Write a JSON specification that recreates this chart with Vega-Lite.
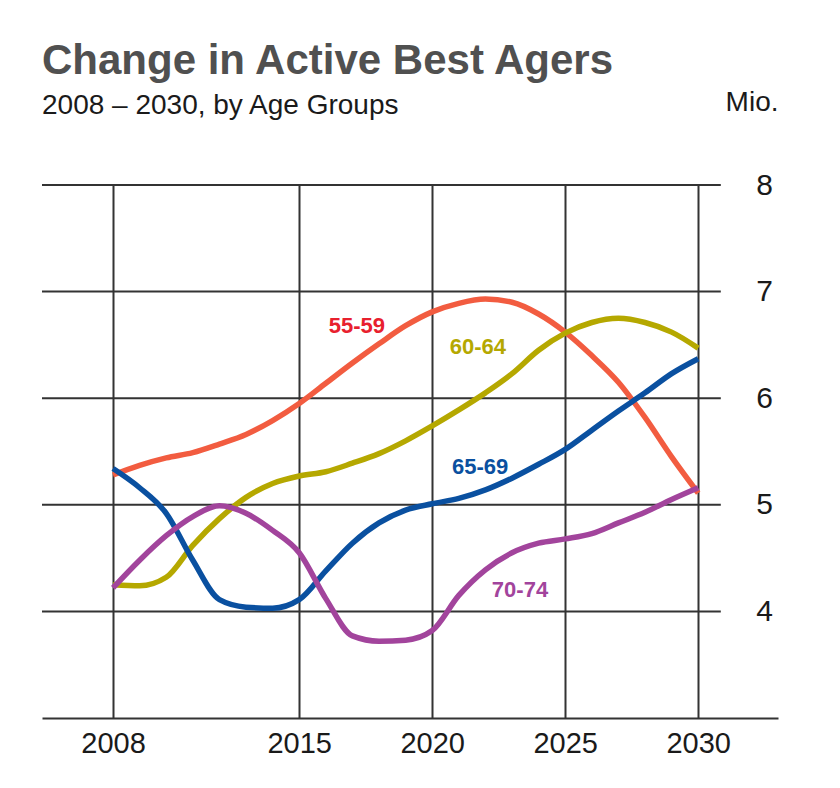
{
  "$schema": "https://vega.github.io/schema/vega-lite/v6.json",
  "autosize": "none",
  "width": 736,
  "height": 533,
  "padding": {"left": 42, "top": 185, "right": 62, "bottom": 70},
  "background": "white",
  "config": {"view": {"stroke": null}, "font": "Liberation Sans"},
  "title": {
    "text": "Change in Active Best Agers",
    "subtitle": "2008 – 2030, by Age Groups",
    "anchor": "start",
    "frame": "group",
    "font": "Liberation Sans",
    "fontSize": 42,
    "fontWeight": "bold",
    "color": "#505050",
    "subtitleFont": "Liberation Sans",
    "subtitleFontSize": 28,
    "subtitleColor": "#1a1a1a",
    "subtitlePadding": 9,
    "offset": -33
  },
  "data": {"values": [
    {"year": 2008, "group": "55-59", "value": 5.28},
    {"year": 2009, "group": "55-59", "value": 5.37},
    {"year": 2010, "group": "55-59", "value": 5.44},
    {"year": 2011, "group": "55-59", "value": 5.49},
    {"year": 2012, "group": "55-59", "value": 5.57},
    {"year": 2013, "group": "55-59", "value": 5.66},
    {"year": 2014, "group": "55-59", "value": 5.79},
    {"year": 2015, "group": "55-59", "value": 5.95},
    {"year": 2016, "group": "55-59", "value": 6.14},
    {"year": 2017, "group": "55-59", "value": 6.33},
    {"year": 2018, "group": "55-59", "value": 6.51},
    {"year": 2019, "group": "55-59", "value": 6.68},
    {"year": 2020, "group": "55-59", "value": 6.81},
    {"year": 2021, "group": "55-59", "value": 6.89},
    {"year": 2022, "group": "55-59", "value": 6.93},
    {"year": 2023, "group": "55-59", "value": 6.90},
    {"year": 2024, "group": "55-59", "value": 6.79},
    {"year": 2025, "group": "55-59", "value": 6.62},
    {"year": 2026, "group": "55-59", "value": 6.40},
    {"year": 2027, "group": "55-59", "value": 6.15},
    {"year": 2028, "group": "55-59", "value": 5.82},
    {"year": 2029, "group": "55-59", "value": 5.45},
    {"year": 2030, "group": "55-59", "value": 5.11},
    {"year": 2008, "group": "60-64", "value": 4.25},
    {"year": 2009, "group": "60-64", "value": 4.24},
    {"year": 2010, "group": "60-64", "value": 4.32},
    {"year": 2011, "group": "60-64", "value": 4.62},
    {"year": 2012, "group": "60-64", "value": 4.87},
    {"year": 2013, "group": "60-64", "value": 5.07},
    {"year": 2014, "group": "60-64", "value": 5.20},
    {"year": 2015, "group": "60-64", "value": 5.27},
    {"year": 2016, "group": "60-64", "value": 5.31},
    {"year": 2017, "group": "60-64", "value": 5.39},
    {"year": 2018, "group": "60-64", "value": 5.48},
    {"year": 2019, "group": "60-64", "value": 5.60},
    {"year": 2020, "group": "60-64", "value": 5.74},
    {"year": 2021, "group": "60-64", "value": 5.89},
    {"year": 2022, "group": "60-64", "value": 6.05},
    {"year": 2023, "group": "60-64", "value": 6.23},
    {"year": 2024, "group": "60-64", "value": 6.45},
    {"year": 2025, "group": "60-64", "value": 6.61},
    {"year": 2026, "group": "60-64", "value": 6.71},
    {"year": 2027, "group": "60-64", "value": 6.75},
    {"year": 2028, "group": "60-64", "value": 6.71},
    {"year": 2029, "group": "60-64", "value": 6.62},
    {"year": 2030, "group": "60-64", "value": 6.47},
    {"year": 2008, "group": "65-69", "value": 5.34},
    {"year": 2009, "group": "65-69", "value": 5.16},
    {"year": 2010, "group": "65-69", "value": 4.92},
    {"year": 2011, "group": "65-69", "value": 4.48},
    {"year": 2012, "group": "65-69", "value": 4.11},
    {"year": 2013, "group": "65-69", "value": 4.04},
    {"year": 2014, "group": "65-69", "value": 4.03},
    {"year": 2015, "group": "65-69", "value": 4.11},
    {"year": 2016, "group": "65-69", "value": 4.38},
    {"year": 2017, "group": "65-69", "value": 4.64},
    {"year": 2018, "group": "65-69", "value": 4.83},
    {"year": 2019, "group": "65-69", "value": 4.95},
    {"year": 2020, "group": "65-69", "value": 5.01},
    {"year": 2021, "group": "65-69", "value": 5.06},
    {"year": 2022, "group": "65-69", "value": 5.14},
    {"year": 2023, "group": "65-69", "value": 5.25},
    {"year": 2024, "group": "65-69", "value": 5.38},
    {"year": 2025, "group": "65-69", "value": 5.52},
    {"year": 2026, "group": "65-69", "value": 5.70},
    {"year": 2027, "group": "65-69", "value": 5.88},
    {"year": 2028, "group": "65-69", "value": 6.05},
    {"year": 2029, "group": "65-69", "value": 6.23},
    {"year": 2030, "group": "65-69", "value": 6.37},
    {"year": 2008, "group": "70-74", "value": 4.22},
    {"year": 2009, "group": "70-74", "value": 4.48},
    {"year": 2010, "group": "70-74", "value": 4.71},
    {"year": 2011, "group": "70-74", "value": 4.89},
    {"year": 2012, "group": "70-74", "value": 4.99},
    {"year": 2013, "group": "70-74", "value": 4.92},
    {"year": 2014, "group": "70-74", "value": 4.76},
    {"year": 2015, "group": "70-74", "value": 4.55},
    {"year": 2016, "group": "70-74", "value": 4.12},
    {"year": 2017, "group": "70-74", "value": 3.77},
    {"year": 2018, "group": "70-74", "value": 3.72},
    {"year": 2019, "group": "70-74", "value": 3.73},
    {"year": 2020, "group": "70-74", "value": 3.82},
    {"year": 2021, "group": "70-74", "value": 4.15},
    {"year": 2022, "group": "70-74", "value": 4.39},
    {"year": 2023, "group": "70-74", "value": 4.55},
    {"year": 2024, "group": "70-74", "value": 4.64},
    {"year": 2025, "group": "70-74", "value": 4.68},
    {"year": 2026, "group": "70-74", "value": 4.73},
    {"year": 2027, "group": "70-74", "value": 4.83},
    {"year": 2028, "group": "70-74", "value": 4.93},
    {"year": 2029, "group": "70-74", "value": 5.05},
    {"year": 2030, "group": "70-74", "value": 5.16}
  ]},
  "layer": [
    {
      "data": {"values": [{"v": 4}, {"v": 5}, {"v": 6}, {"v": 7}, {"v": 8}]},
      "mark": {"type": "rule", "color": "#333333", "strokeWidth": 2},
      "encoding": {
        "y": {"field": "v", "type": "quantitative", "scale": {"domain": [3, 8], "nice": false}},
        "x": {"datum": 2005.33, "type": "quantitative", "scale": {"domain": [2005.33, 2033], "nice": false, "zero": false}},
        "x2": {"datum": 2030.85}
      }
    },
    {
      "mark": {"type": "line", "strokeWidth": 5.5, "interpolate": "monotone"},
      "encoding": {
        "x": {
          "field": "year", "type": "quantitative",
          "scale": {"domain": [2005.33, 2033], "nice": false, "zero": false},
          "axis": {
            "values": [2008, 2015, 2020, 2025, 2030],
            "format": "d",
            "title": null,
            "grid": true,
            "gridColor": "#333333",
            "gridWidth": 2,
            "gridOpacity": 1,
            "domain": true,
            "domainColor": "#333333",
            "domainWidth": 2,
            "ticks": false,
            "labelFont": "Liberation Sans",
            "labelFontSize": 29,
            "labelColor": "#1a1a1a",
            "labelPadding": 11,
            "labelFlush": false
          }
        },
        "y": {
          "field": "value", "type": "quantitative",
          "scale": {"domain": [3, 8], "nice": false, "zero": false},
          "axis": {
            "orient": "right",
            "values": [4, 5, 6, 7, 8],
            "format": "d",
            "grid": false,
            "domain": false,
            "ticks": false,
            "tickSize": 0,
            "labelAlign": "center",
            "labelBaseline": "middle",
            "labelPadding": -14,
            "labelFont": "Liberation Sans",
            "labelFontSize": 30,
            "labelColor": "#1a1a1a",
            "title": "Mio.",
            "titleAngle": 0,
            "titleAlign": "right",
            "titleBaseline": "alphabetic",
            "titleX": 0,
            "titleY": -75,
            "titleFont": "Liberation Sans",
            "titleFontSize": 28,
            "titleFontWeight": "normal",
            "titleColor": "#1a1a1a"
          }
        },
        "color": {
          "field": "group", "type": "nominal",
          "scale": {"domain": ["55-59", "60-64", "65-69", "70-74"], "range": ["#F25C40", "#B5A800", "#0A50A0", "#A2449C"]},
          "legend": null
        }
      }
    },
    {
      "data": {"values": [{"label": "55-59"}]},
      "mark": {"type": "text", "font": "Liberation Sans", "fontSize": 22, "fontWeight": "bold", "fill": "#E8202E"},
      "encoding": {"text": {"field": "label"}, "x": {"datum": 2017.17, "type": "quantitative"}, "y": {"datum": 6.68, "type": "quantitative"}}
    },
    {
      "data": {"values": [{"label": "60-64"}]},
      "mark": {"type": "text", "font": "Liberation Sans", "fontSize": 22, "fontWeight": "bold", "fill": "#B5A800"},
      "encoding": {"text": {"field": "label"}, "x": {"datum": 2021.72, "type": "quantitative"}, "y": {"datum": 6.48, "type": "quantitative"}}
    },
    {
      "data": {"values": [{"label": "65-69"}]},
      "mark": {"type": "text", "font": "Liberation Sans", "fontSize": 22, "fontWeight": "bold", "fill": "#0A50A0"},
      "encoding": {"text": {"field": "label"}, "x": {"datum": 2021.8, "type": "quantitative"}, "y": {"datum": 5.35, "type": "quantitative"}}
    },
    {
      "data": {"values": [{"label": "70-74"}]},
      "mark": {"type": "text", "font": "Liberation Sans", "fontSize": 22, "fontWeight": "bold", "fill": "#A2449C"},
      "encoding": {"text": {"field": "label"}, "x": {"datum": 2023.3, "type": "quantitative"}, "y": {"datum": 4.2, "type": "quantitative"}}
    }
  ]
}
